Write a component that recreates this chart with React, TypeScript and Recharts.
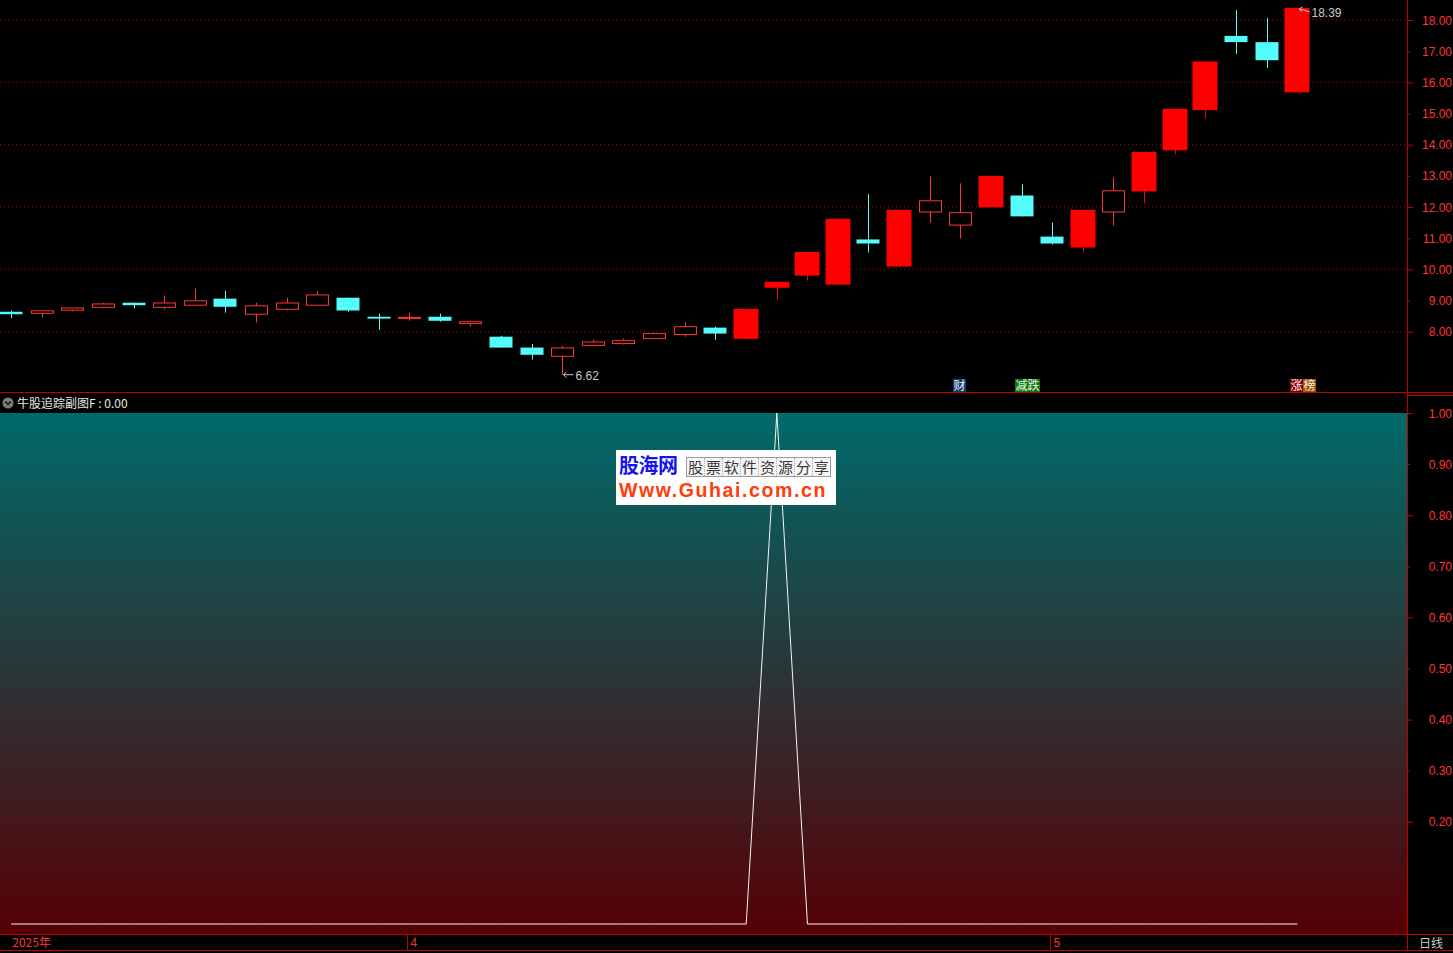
import React from "react";
import { ComposedChart, Bar, Line, XAxis, YAxis, CartesianGrid } from "recharts";

// ---------- data ----------
const dates = [
  "2025-03-13", "2025-03-14", "2025-03-17", "2025-03-18", "2025-03-19", "2025-03-20", "2025-03-21",
  "2025-03-24", "2025-03-25", "2025-03-26", "2025-03-27", "2025-03-28", "2025-03-31",
  "2025-04-01", "2025-04-02", "2025-04-03", "2025-04-07", "2025-04-08", "2025-04-09", "2025-04-10",
  "2025-04-11", "2025-04-14", "2025-04-15", "2025-04-16", "2025-04-17", "2025-04-18", "2025-04-21",
  "2025-04-22", "2025-04-23", "2025-04-24", "2025-04-25", "2025-04-28", "2025-04-29", "2025-04-30",
  "2025-05-06", "2025-05-07", "2025-05-08", "2025-05-09", "2025-05-12", "2025-05-13", "2025-05-14",
  "2025-05-15", "2025-05-16",
];
const opens = [
  8.64, 8.59, 8.69, 8.78, 8.93, 8.78, 8.85, 9.06, 8.56, 8.72, 8.85, 9.09, 8.48,
  8.44, 8.48, 8.26, 7.84, 7.49, 7.21, 7.56, 7.62, 7.78, 7.91, 8.13, 7.77, 9.41, 9.80,
  9.51, 10.96, 10.09, 11.84, 11.42, 11.99, 12.37,
  11.05, 10.70, 11.84, 12.50, 13.82, 15.11, 17.49, 17.29, 15.68,
];
const highs = [
  8.68, 8.67, 8.76, 8.93, 8.93, 9.16, 9.38, 9.32, 8.93, 9.09, 9.29, 9.09, 8.58,
  8.61, 8.58, 8.35, 7.87, 7.61, 7.55, 7.74, 7.78, 7.97, 8.29, 8.16, 8.73, 9.60, 10.56,
  11.62, 12.41, 11.91, 12.98, 12.76, 13.00, 12.73,
  11.50, 11.91, 12.95, 13.77, 15.15, 16.67, 18.32, 18.06, 18.39,
];
const lows = [
  8.43, 8.46, 8.65, 8.75, 8.75, 8.71, 8.85, 8.61, 8.29, 8.68, 8.85, 8.64, 8.06,
  8.35, 8.32, 8.16, 7.49, 7.10, 6.62, 7.56, 7.59, 7.78, 7.84, 7.74, 7.77, 9.03, 9.64,
  9.51, 10.54, 10.09, 11.50, 10.99, 11.99, 11.70,
  10.80, 10.54, 11.41, 12.12, 13.69, 14.85, 16.91, 16.46, 15.68,
];
const closes = [
  8.56, 8.67, 8.76, 8.89, 8.85, 8.92, 8.99, 8.80, 8.83, 8.92, 9.18, 8.68, 8.42,
  8.46, 8.35, 8.32, 7.49, 7.26, 7.48, 7.67, 7.71, 7.94, 8.16, 7.94, 8.73, 9.60, 10.56,
  11.62, 10.83, 11.91, 12.20, 11.82, 13.00, 11.70,
  10.83, 11.91, 12.52, 13.77, 15.15, 16.67, 17.29, 16.71, 18.39,
];
// 牛股追踪副图F signal
const signal = [
  0, 0, 0, 0, 0, 0, 0, 0, 0, 0, 0, 0, 0,
  0, 0, 0, 0, 0, 0, 0, 0, 0, 0, 0, 0, 1, 0,
  0, 0, 0, 0, 0, 0, 0,
  0, 0, 0, 0, 0, 0, 0, 0, 0,
];
const priceTicks = [8, 9, 10, 11, 12, 13, 14, 15, 16, 17, 18];
const priceGridValues = [8, 10, 12, 14, 16, 18];
const signalTicks = [0.2, 0.3, 0.4, 0.5, 0.6, 0.7, 0.8, 0.9, 1.0];
const monthLabelDates = ["2025-03-13", "2025-04-01", "2025-05-06"];
const monthLabelTexts = ["2025年", "4", "5"];
const eventDates = ["2025-04-28", "2025-04-30", "2025-05-16"];
const eventTexts = [["财"], ["减跌"], ["涨", "榜"]];

const priceDomain: [number, number] = [6.033, 18.642];
const signalDomain: [number, number] = [-0.0196, 1.0];

const candles = dates.map((d, i) => ({
  date: d,
  open: opens[i],
  high: highs[i],
  low: lows[i],
  close: closes[i],
  range: [lows[i], highs[i]],
  limitUp: i > 0 && closes[i] >= closes[i - 1] * 1.095,
}));
const signalData = dates.map((d, i) => ({ date: d, value: signal[i] }));

const maxIdx = highs.indexOf(Math.max(...highs));
const minIdx = lows.indexOf(Math.min(...lows));

// ---------- styles ----------
const PAGE_W = 1453;
const SHIFT = 4;
const CHART_W = PAGE_W + SHIFT;
const AXIS_W = 46;
const PLOT_R = CHART_W - AXIS_W;
const PAD_R = 94.3;
const TOP_H = 393;
const BOT_TOP = 395;
const BOT_H = 558;
const BOT_MARGIN_TOP = 18;
const XAXIS_H = 19;
const BOT_AXIS_TOP = BOT_H - XAXIS_H;

const RED_LINE = "#c00000";
const RED_TEXT = "#ff3434";
const CYAN = "#54fcfc";
const RED_FILL = "#ff0000";
const RED_HOLLOW = "#ff3434";
const GRAY_TEXT = "#c8c8c8";
const EVENT_BG = [["#0d3c78"], ["#0b7a0b"], ["#8a0000", "#9a5800"]];
const NUM_FONT = "'Liberation Sans', Arial, sans-serif";
const CJK_FONT = "'Noto Sans CJK SC', 'Liberation Sans', sans-serif";

const CandleShape = (props: any) => {
  const { x, y, width, height, payload, index, background } = props;
  if (x == null || y == null) return <g />;
  const cx = Math.round(x + width / 2) + 0.5;
  const yTop = Math.min(y, y + height);
  const yBot = Math.max(y, y + height);
  const { open, close, high, low, limitUp } = payload;
  const toY = (v: number) => (high === low ? yTop : yTop + ((high - v) / (high - low)) * (yBot - yTop));
  const up = close >= open;
  const bTop = toY(Math.max(open, close));
  const bBot = toY(Math.min(open, close));
  const plotBottom = background ? background.y + background.height : TOP_H;
  const els: any[] = [];
  if (!up) {
    const bw = 23;
    els.push(<line key="w" x1={cx} x2={cx} y1={toY(high)} y2={toY(low)} stroke={CYAN} strokeWidth={1} />);
    els.push(<rect key="b" x={cx - 0.5 - bw / 2} y={bTop} width={bw} height={Math.max(bBot - bTop, 1.5)} fill={CYAN} />);
  } else if (limitUp) {
    const bw = 25;
    els.push(<line key="w" x1={cx} x2={cx} y1={toY(high)} y2={toY(low)} stroke={RED_FILL} strokeWidth={1} />);
    els.push(<rect key="b" x={cx - 0.5 - bw / 2} y={bTop} width={bw} height={Math.max(bBot - bTop, 1.5)} fill={RED_FILL} />);
  } else {
    const bw = 22;
    const h = Math.max(bBot - bTop, 1);
    els.push(<line key="wu" x1={cx} x2={cx} y1={toY(high)} y2={bTop} stroke={RED_HOLLOW} strokeWidth={1} />);
    els.push(<line key="wl" x1={cx} x2={cx} y1={bTop + h} y2={toY(low)} stroke={RED_HOLLOW} strokeWidth={1} />);
    els.push(<rect key="bg" x={cx - bw / 2} y={bTop} width={bw} height={h} fill="#000" />);
    els.push(<rect key="b" x={cx - bw / 2} y={bTop} width={bw} height={h} fill="none" stroke={RED_HOLLOW} strokeWidth={1} />);
  }
  if (index === maxIdx) {
    const yh = toY(high);
    els.push(<path key="ah" d={`M${cx + 2},${yh + 1} l3,-2 M${cx + 2},${yh + 1} l2,3 M${cx + 2},${yh + 1} L${cx + 12},${yh + 4}`} stroke={GRAY_TEXT} fill="none" strokeWidth={1} />);
    els.push(<text key="th" x={cx + 14} y={yh + 9.5} fill={GRAY_TEXT} fontSize={12} fontFamily={NUM_FONT}>{high.toFixed(2)}</text>);
  }
  if (index === minIdx) {
    const yl = toY(low);
    els.push(<path key="al" d={`M${cx + 1},${yl} L${cx + 11},${yl} M${cx + 1},${yl} l3,-3 M${cx + 1},${yl} l3,3`} stroke={GRAY_TEXT} fill="none" strokeWidth={1} />);
    els.push(<text key="tl" x={cx + 13} y={yl + 5} fill={GRAY_TEXT} fontSize={12} fontFamily={NUM_FONT}>{low.toFixed(2)}</text>);
  }
  const ev = eventDates.indexOf(payload.date);
  if (ev >= 0) {
    let ex = cx - 7.5;
    eventTexts[ev].forEach((seg, k) => {
      const w = seg.length * 12 + 1;
      els.push(<rect key={`eb${k}`} x={ex} y={plotBottom - 14} width={w} height={13} fill={EVENT_BG[ev][k]} />);
      els.push(<text key={`et${k}`} x={ex + 0.5} y={plotBottom - 3} fill="#f0f0f0" fontSize={12} fontFamily={CJK_FONT}>{seg}</text>);
      ex += w;
    });
  }
  return <g>{els}</g>;
};

const PriceTick = (props: any) => {
  const { y, payload } = props;
  const v = payload.value as number;
  const major = v % 2 === 0;
  return (
    <g>
      <line x1={PLOT_R} x2={PLOT_R + (major ? 6 : 3)} y1={y + 0.5} y2={y + 0.5} stroke={RED_LINE} />
      <text x={CHART_W - 1} y={y + 4.5} textAnchor="end" fill={RED_TEXT} fontSize={12} fontFamily={NUM_FONT}>{v.toFixed(2)}</text>
    </g>
  );
};

const SignalTick = (props: any) => {
  const { y, payload } = props;
  const v = payload.value as number;
  const major = Math.round(v * 10) % 2 === 0;
  return (
    <g>
      <line x1={PLOT_R} x2={PLOT_R + (major ? 6 : 3)} y1={y + 0.5} y2={y + 0.5} stroke={RED_LINE} />
      <text x={CHART_W - 1} y={y + 4.5} textAnchor="end" fill={RED_TEXT} fontSize={12} fontFamily={NUM_FONT}>{v.toFixed(2)}</text>
    </g>
  );
};

const DateTick = (props: any) => {
  const { x, payload } = props;
  const k = monthLabelDates.indexOf(payload.value);
  if (k < 0) return <g />;
  const sx = Math.round(x) - 1.5;
  return (
    <g>
      {k > 0 && <line x1={sx} x2={sx} y1={BOT_AXIS_TOP} y2={BOT_AXIS_TOP + 16} stroke={RED_LINE} />}
      <text x={x + 1} y={BOT_AXIS_TOP + 13} fill={RED_TEXT} fontSize={12} fontFamily={k === 0 ? CJK_FONT : NUM_FONT}>{monthLabelTexts[k]}</text>
    </g>
  );
};

const hLine = (left: number, top: number, width: number, color = RED_LINE) => (
  <div style={{ position: "absolute", left, top, width, height: 1, background: color }} />
);
const vLine = (left: number, top: number, height: number, color = RED_LINE) => (
  <div style={{ position: "absolute", left, top, width: 1, height, background: color }} />
);

const watermarkCells = ["股", "票", "软", "件", "资", "源", "分", "享"];

export default function App() {
  return (
    <div style={{ position: "fixed", left: 0, top: 0, width: PAGE_W, height: 953, background: "#000", overflow: "hidden", fontFamily: NUM_FONT }}>
      {/* lower panel gradient background */}
      <div style={{ position: "absolute", left: 0, top: 413, width: 1407, height: 521, background: "linear-gradient(to bottom, #006a6a 0%, #560005 100%)" }} />

      {/* main candlestick panel */}
      <div style={{ position: "absolute", left: -SHIFT, top: 0, width: CHART_W, height: TOP_H }}>
        <ComposedChart width={CHART_W} height={TOP_H} data={candles} margin={{ top: 0, right: 0, bottom: 0, left: 0 }}>
          <CartesianGrid horizontalValues={priceGridValues} vertical={false} stroke="#b00000" strokeDasharray="1 3" />
          <XAxis dataKey="date" type="category" scale="band" hide padding={{ left: 0, right: PAD_R }} />
          <YAxis
            orientation="right"
            width={AXIS_W}
            type="number"
            domain={priceDomain}
            allowDataOverflow
            ticks={priceTicks}
            interval={0}
            tick={<PriceTick />}
            tickLine={false}
            axisLine={false}
          />
          <Bar dataKey="range" shape={<CandleShape />} isAnimationActive={false} />
        </ComposedChart>
      </div>

      {/* indicator panel */}
      <div style={{ position: "absolute", left: -SHIFT, top: BOT_TOP, width: CHART_W, height: BOT_H }}>
        <ComposedChart width={CHART_W} height={BOT_H} data={signalData} margin={{ top: BOT_MARGIN_TOP, right: 0, bottom: 0, left: 0 }}>
          <XAxis
            dataKey="date"
            type="category"
            scale="band"
            height={XAXIS_H}
            padding={{ left: 0, right: PAD_R }}
            interval={0}
            tick={<DateTick />}
            tickLine={false}
            axisLine={false}
          />
          <YAxis
            orientation="right"
            width={AXIS_W}
            type="number"
            domain={signalDomain}
            allowDataOverflow
            ticks={signalTicks}
            interval={0}
            tick={<SignalTick />}
            tickLine={false}
            axisLine={false}
          />
          <Line type="linear" dataKey="value" stroke="#f4f4f4" strokeWidth={1} dot={false} activeDot={false} isAnimationActive={false} />
        </ComposedChart>
      </div>

      {/* frame lines */}
      {vLine(1407, 0, 950)}
      {hLine(0, 392, PAGE_W)}
      {hLine(1407, 395, 46)}
      {hLine(0, 934, PAGE_W)}
      {hLine(0, 950, PAGE_W)}

      {/* indicator header */}
      <div style={{ position: "absolute", left: 2, top: 396, height: 14, display: "flex", alignItems: "center" }}>
        <svg width={12} height={12}>
          <circle cx={6} cy={6} r={5.5} fill="#7b7b7b" />
          <path d="M3.2,4.6 L6,7.4 L8.8,4.6" stroke="#1a1a1a" strokeWidth={1.6} fill="none" />
        </svg>
        <span style={{ marginLeft: 3, fontSize: 12, color: "#e6e6e6", fontFamily: CJK_FONT, lineHeight: "14px", whiteSpace: "pre" }}>牛股追踪副图F : 0.00</span>
      </div>

      {/* period label */}
      <div style={{ position: "absolute", left: 1419, top: 935, fontSize: 12, color: GRAY_TEXT, fontFamily: CJK_FONT, lineHeight: "15px" }}>日线</div>

      {/* watermark */}
      <div style={{ position: "absolute", left: 616, top: 450, width: 220, height: 55, background: "#fff" }}>
        <div style={{ position: "absolute", left: 3, top: 3, fontSize: 20, fontWeight: 700, color: "#1414f0", fontFamily: CJK_FONT, lineHeight: "24px", letterSpacing: -0.5 }}>股海网</div>
        <div style={{ position: "absolute", left: 70, top: 7, display: "flex", border: "1px solid #9a9a9a", background: "#f6f6f6" }}>
          {watermarkCells.map((c, i) => (
            <span key={i} style={{ width: 17, height: 18, fontSize: 15, lineHeight: "18px", textAlign: "center", borderRight: i < watermarkCells.length - 1 ? "1px dotted #aaa" : "none", color: "#3a3a3a", fontFamily: CJK_FONT }}>{c}</span>
          ))}
        </div>
        <div style={{ position: "absolute", left: 3, top: 29, fontSize: 19.5, fontWeight: 700, color: "#ff3c0a", letterSpacing: 1.6, fontFamily: NUM_FONT, lineHeight: "22px", whiteSpace: "nowrap" }}>Www.Guhai.com.cn</div>
      </div>
    </div>
  );
}
